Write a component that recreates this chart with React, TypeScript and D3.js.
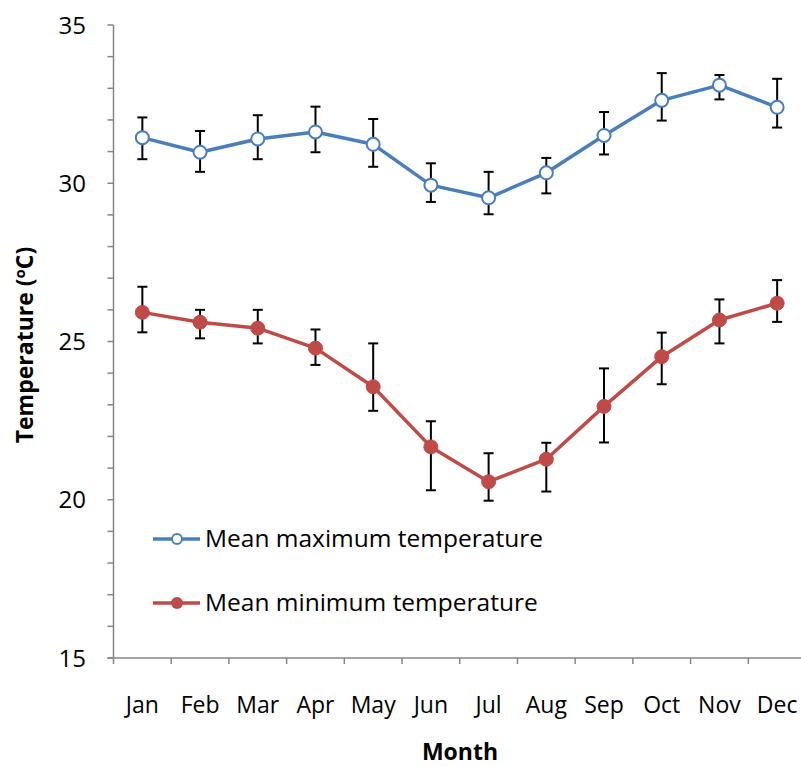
import React from "react";
import * as d3 from "d3";

const months = ["Jan","Feb","Mar","Apr","May","Jun","Jul","Aug","Sep","Oct","Nov","Dec"];
const maxTemp = [31.44,30.98,31.40,31.62,31.23,29.94,29.54,30.33,31.51,32.62,33.10,32.40];
const maxPlus = [0.64,0.67,0.75,0.80,0.80,0.69,0.82,0.47,0.74,0.86,0.32,0.90];
const maxMinus = [0.68,0.62,0.64,0.64,0.71,0.53,0.52,0.65,0.60,0.64,0.45,0.64];
const minTemp = [25.92,25.61,25.42,24.79,23.57,21.67,20.57,21.28,22.95,24.52,25.68,26.21];
const minPlus = [0.81,0.39,0.58,0.59,1.37,0.81,0.90,0.52,1.20,0.76,0.65,0.73];
const minMinus = [0.63,0.51,0.48,0.53,0.76,1.37,0.60,1.02,1.14,0.87,0.74,0.59];
const yTicks = [15,20,25,30,35];
const seriesNames = ["Mean maximum temperature","Mean minimum temperature"];

const W = 801, H = 767;
const left = 113.5, right = 806, top = 25, bottom = 658;
const font = "'Open Sans', Lato, sans-serif";
const BLUE = "#4a7ebb", RED = "#be4b48", AXIS = "#868686";

export default function App() {
  const x = d3.scaleBand<string>().domain(months).range([left, right]).padding(0);
  const y = d3.scaleLinear().domain([15, 35]).range([bottom, top]);
  const cx = (m: string) => (x(m) as number) + x.bandwidth() / 2;
  const line = d3.line<number>().x((_, i) => cx(months[i])).y(d => y(d));
  const minor = d3.range(15, 36, 1);

  const errBars = (vals: number[], plus: number[], minus: number[], key: string) =>
    vals.map((v, i) => {
      const xx = cx(months[i]);
      const y1 = y(v + plus[i]), y2 = y(v - minus[i]);
      return (
        <g key={key + i} stroke="#000" strokeWidth={2}>
          <line x1={xx} x2={xx} y1={y1} y2={y2} />
          <line x1={xx - 5} x2={xx + 5} y1={y1} y2={y1} />
          <line x1={xx - 5} x2={xx + 5} y1={y2} y2={y2} />
        </g>
      );
    });

  return (
    <svg width={W} height={H} style={{ display: "block", position: "absolute", left: 0, top: 0 }} fontFamily={font}>
      <rect width={W} height={H} fill="#fff" />
      {/* y axis */}
      <line x1={left} x2={left} y1={top} y2={bottom} stroke={AXIS} strokeWidth={1.5} />
      {minor.map(t => (
        <line key={"yt" + t} x1={left - 6} x2={left} y1={y(t)} y2={y(t)} stroke={AXIS} strokeWidth={1.5} />
      ))}
      {yTicks.map(t => (
        <text key={"yl" + t} x={86} y={y(t) + 8.5} textAnchor="end" fontSize={24} fill="#000">{t}</text>
      ))}
      {/* x axis */}
      <line x1={left - 6} x2={right} y1={bottom} y2={bottom} stroke={AXIS} strokeWidth={1.5} />
      {months.map(m => (
        <line key={"xt" + m} x1={x(m) as number} x2={x(m) as number} y1={bottom} y2={bottom + 6} stroke={AXIS} strokeWidth={1.5} />
      ))}
      {months.map(m => (
        <text key={"xl" + m} x={cx(m)} y={713} textAnchor="middle" fontSize={23} fill="#000">{m}</text>
      ))}
      <text x={460} y={760} textAnchor="middle" fontSize={23} fontWeight="bold">Month</text>
      <text transform={`translate(33, 345) rotate(-90)`} textAnchor="middle" fontSize={23} fontWeight="bold">
        Temperature (<tspan fontSize={15} dy={-8}>o</tspan><tspan dy={8}>C)</tspan>
      </text>

      {/* error bars */}
      {errBars(maxTemp, maxPlus, maxMinus, "emax")}
      {errBars(minTemp, minPlus, minMinus, "emin")}

      {/* lines */}
      <path d={line(maxTemp) || ""} fill="none" stroke={BLUE} strokeWidth={3.5} strokeLinejoin="round" />
      <path d={line(minTemp) || ""} fill="none" stroke={RED} strokeWidth={3.5} strokeLinejoin="round" />
      {maxTemp.map((v, i) => (
        <circle key={"mx" + i} cx={cx(months[i])} cy={y(v)} r={6.5} fill="#fff" stroke={BLUE} strokeWidth={2} />
      ))}
      {minTemp.map((v, i) => (
        <circle key={"mn" + i} cx={cx(months[i])} cy={y(v)} r={7} fill={RED} stroke={RED} strokeWidth={1} />
      ))}

      {/* legend */}
      <g>
        <line x1={153} x2={200} y1={539} y2={539} stroke={BLUE} strokeWidth={3.5} />
        <circle cx={177} cy={539} r={5} fill="#fff" stroke={BLUE} strokeWidth={2} />
        <text x={205} y={547} fontSize={24.5}>{seriesNames[0]}</text>
        <line x1={153} x2={200} y1={603} y2={603} stroke={RED} strokeWidth={3.5} />
        <circle cx={177} cy={603} r={6} fill={RED} />
        <text x={205} y={611} fontSize={24.5}>{seriesNames[1]}</text>
      </g>
    </svg>
  );
}
